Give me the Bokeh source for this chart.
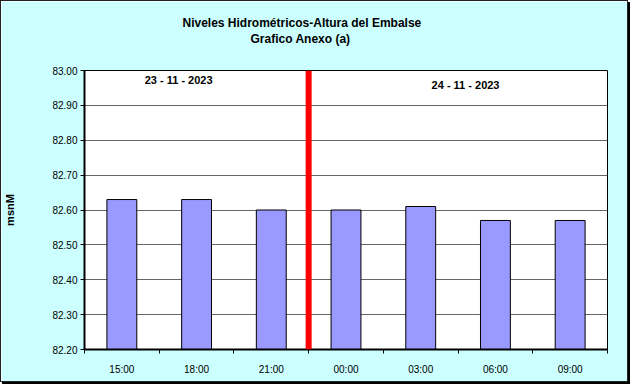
from bokeh.plotting import figure
from bokeh.models import FixedTicker, Span, Range1d, NumeralTickFormatter, ColumnDataSource, Title
from bokeh.embed import file_html
from bokeh.resources import INLINE
from bokeh.core.properties import value

# ---- data ----
hours = ["15:00", "18:00", "21:00", "00:00", "03:00", "06:00", "09:00"]
levels = [82.63, 82.63, 82.60, 82.60, 82.61, 82.57, 82.57]
y_ticks = [82.20, 82.30, 82.40, 82.50, 82.60, 82.70, 82.80, 82.90, 83.00]
y_min, y_max = 82.20, 83.00
dates = ["23 - 11 - 2023", "24 - 11 - 2023"]
date_x = [1.26, 5.10]
date_y = [82.972, 82.957]
first_of_day2 = hours.index("00:00")
title_lines = ["Niveles Hidrométricos-Altura del Embalse", "Grafico Anexo (a)"]
title_offsets = [98, 166]   # px from left edge of plot frame

centers = [i + 0.5 for i in range(len(hours))]
bounds = list(range(len(hours) + 1))
FONT = "Liberation Sans"

p = figure(width=628, height=382, output_backend="svg", toolbar_location=None,
           x_range=Range1d(0, len(hours)), y_range=Range1d(y_min, y_max),
           min_border_left=82, min_border_right=22, min_border_top=69, min_border_bottom=34,
           background_fill_color="white", border_fill_color="#CCFFFF",
           outline_line_color="black", outline_line_width=1, title=None)

p.styles = {"border": "1px solid #222", "box-shadow": "2px 2px 0 0 #000"}

# "above" panels stack outward from the frame in the order added; first one is a spacer
p.add_layout(Title(text=" ", text_font_size="1px", standoff=22), "above")
for txt, off in reversed(list(zip(title_lines, title_offsets))):
    p.add_layout(Title(text=txt, align="left", offset=off, standoff=0, text_font=FONT,
                       text_font_size="12px", text_font_style="bold", text_color="black"), "above")

src = ColumnDataSource(dict(x=centers, top=levels))
p.vbar(x="x", top="top", bottom=y_min, width=0.4, source=src,
       fill_color="#9999FF", line_color="black", line_width=1)

p.add_layout(Span(location=first_of_day2, dimension="height", line_color="#FF0000", line_width=6))

p.text(x=date_x, y=date_y, text=dates, text_font=value(FONT), text_font_size="11px",
       text_font_style="bold", text_align="center", text_baseline="middle", text_color="black")

# x axis
p.xaxis.ticker = FixedTicker(ticks=centers, minor_ticks=bounds)
p.xaxis.major_label_overrides = {c: h for c, h in zip(centers, hours)}
p.xaxis.major_tick_line_color = None
p.xaxis.minor_tick_line_color = "black"
p.xaxis.minor_tick_in = 0
p.xaxis.minor_tick_out = 4
p.xaxis.major_label_standoff = 8
p.xgrid.grid_line_color = None

# y axis
p.yaxis.ticker = FixedTicker(ticks=y_ticks)
p.yaxis.formatter = NumeralTickFormatter(format="0.00")
p.yaxis.major_tick_in = 0
p.yaxis.major_tick_out = 4
p.yaxis.minor_tick_line_color = None
p.yaxis.major_label_standoff = 3
p.yaxis.axis_label = "msnM"
p.yaxis.axis_label_text_font = FONT
p.yaxis.axis_label_text_font_size = "11px"
p.yaxis.axis_label_text_font_style = "bold"
p.yaxis.axis_label_text_color = "black"
p.yaxis.axis_label_standoff = 33
p.ygrid.grid_line_color = "#666666"
p.ygrid.grid_line_width = 1

for ax in (p.xaxis, p.yaxis):
    ax.axis_line_color = "black"
    ax.axis_line_width = 2
    ax.major_label_text_font = FONT
    ax.major_label_text_font_size = "10px"
    ax.major_label_text_color = "black"

open("out.html", "w").write(file_html(p, INLINE))
